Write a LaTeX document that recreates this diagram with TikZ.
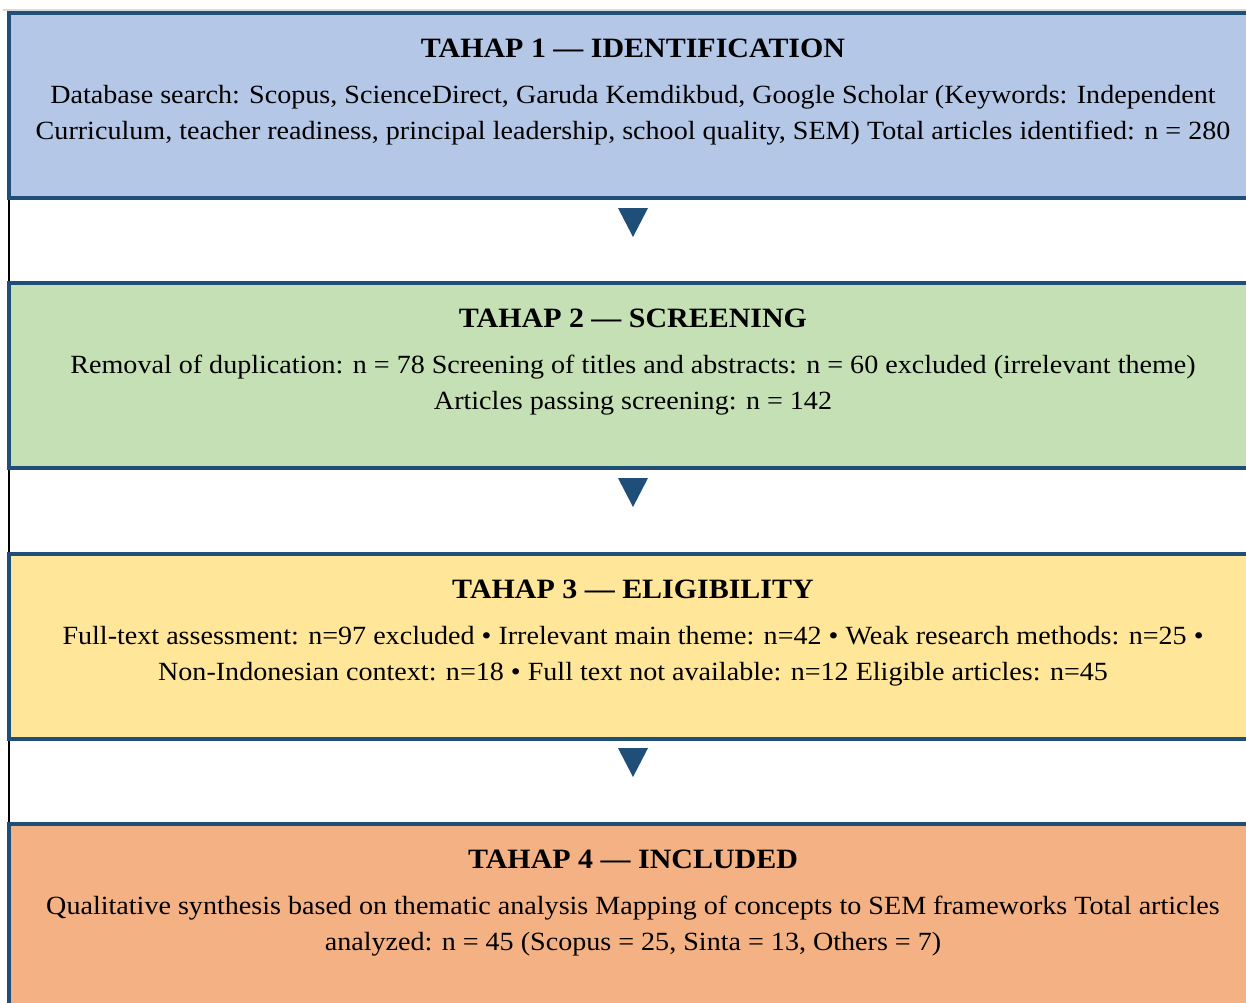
\documentclass[tikz,border=0pt]{standalone}
\usepackage{fontspec}
\setmainfont[FakeStretch=1.07]{Liberation Serif}
\definecolor{bordc}{HTML}{1F4E79}
\definecolor{cone}{HTML}{B4C7E7}
\definecolor{ctwo}{HTML}{C5E0B4}
\definecolor{cthree}{HTML}{FFE699}
\definecolor{cfour}{HTML}{F4B183}
\definecolor{topgray}{HTML}{D9D9D9}
\begin{document}
\begin{tikzpicture}[x=1pt,y=-1pt,
  stagebox/.style={draw=bordc, line width=4pt, inner sep=0pt, outer sep=0pt, minimum width=1253pt, minimum height=185pt},
  titletxt/.style={font=\fontsize{28}{30}\selectfont\bfseries, anchor=base, inner sep=0pt},
  bodytxt/.style={font=\fontsize{26.25}{30}\selectfont, anchor=base, inner sep=0pt},
  gapline/.style={draw=black, line width=2pt},
  tri/.style={fill=bordc}]
\useasboundingbox (0,0) rectangle (1246,1002);
\clip (0,0) rectangle (1246,1002);
\draw[draw=topgray, line width=2pt] (3,10) -- (1246,10);
% boxes
\node[stagebox, fill=cone]   (s1) at (635.5,105.5) {};
\node[stagebox, fill=ctwo]   (s2) at (635.5,375.5) {};
\node[stagebox, fill=cthree] (s3) at (635.5,646.5) {};
\node[stagebox, fill=cfour]  (s4) at (635.5,916.5) {};
% gap lines
\draw[gapline] ([yshift=-2pt]s1.south west) -- ([yshift=2pt]s2.north west);
\draw[gapline] ([yshift=-2pt]s2.south west) -- ([yshift=2pt]s3.north west);
\draw[gapline] ([yshift=-2pt]s3.south west) -- ([yshift=2pt]s4.north west);
% arrows
\coordinate (a1) at (633,208);
\coordinate (a2) at (633,478);
\coordinate (a3) at (633,748);
\foreach \a in {a1,a2,a3}{
  \fill[tri] ([xshift=-15pt]\a) -- ([xshift=15pt]\a) -- ([yshift=-29pt]\a) -- cycle;
}
% texts
\node[titletxt] (t1) at (633,57) {TAHAP 1 — IDENTIFICATION};
\node[bodytxt] (b1a) at (633,103) {Database search: Scopus, ScienceDirect, Garuda Kemdikbud, Google Scholar (Keywords: Independent};
\node[bodytxt] (b1b) at (633,139.5) {Curriculum, teacher readiness, principal leadership, school quality, SEM) Total articles identified: n = 280};
\node[titletxt] (t2) at (633,327) {TAHAP 2 — SCREENING};
\node[bodytxt] (b2a) at (633,373) {Removal of duplication: n = 78 Screening of titles and abstracts: n = 60 excluded (irrelevant theme)};
\node[bodytxt] (b2b) at (633,409.5) {Articles passing screening: n = 142};
\node[titletxt] (t3) at (633,598) {TAHAP 3 — ELIGIBILITY};
\node[bodytxt] (b3a) at (633,644) {Full-text assessment: n=97 excluded • Irrelevant main theme: n=42 • Weak research methods: n=25 •};
\node[bodytxt] (b3b) at (633,680.5) {Non-Indonesian context: n=18 • Full text not available: n=12 Eligible articles: n=45};
\node[titletxt] (t4) at (633,868) {TAHAP 4 — INCLUDED};
\node[bodytxt] (b4a) at (633,914) {Qualitative synthesis based on thematic analysis Mapping of concepts to SEM frameworks Total articles};
\node[bodytxt] (b4b) at (633,950.5) {analyzed: n = 45 (Scopus = 25, Sinta = 13, Others = 7)};
\end{tikzpicture}
\end{document}
